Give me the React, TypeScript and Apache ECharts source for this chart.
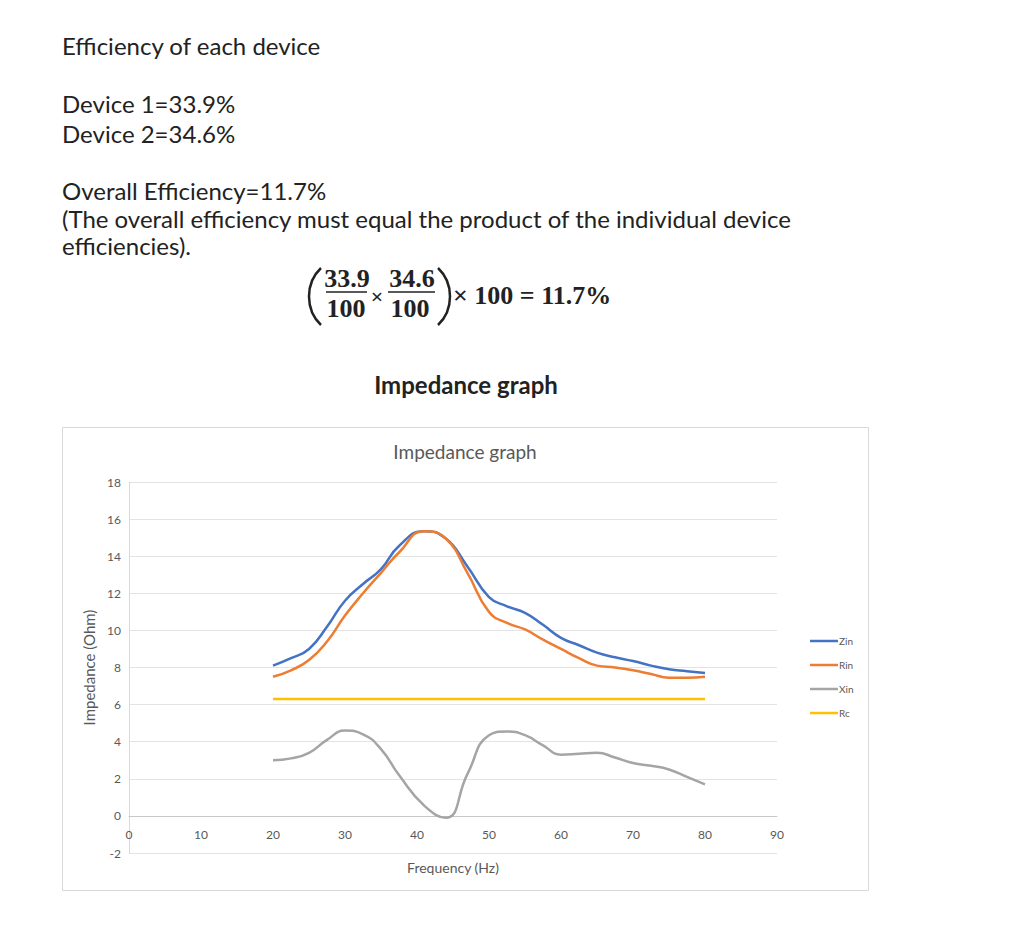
import React, { useEffect, useRef } from "react";
import * as echarts from "echarts";

const frequency = [20, 22.5, 25, 27.5, 30, 32.5, 35, 37.5, 41, 44, 47, 50, 52.5, 55, 57.5, 60, 62.5, 65, 67.5, 70, 72.5, 75, 77.5, 80];
const zin = [8.1, 8.5, 9.0, 10.2, 11.6, 12.5, 13.3, 14.55, 15.35, 14.95, 13.45, 11.8, 11.3, 10.95, 10.3, 9.6, 9.2, 8.8, 8.55, 8.35, 8.1, 7.9, 7.8, 7.7];
const rin = [7.5, 7.85, 8.4, 9.4, 10.8, 12.0, 13.1, 14.2, 15.35, 14.95, 13.1, 11.0, 10.4, 10.05, 9.5, 9.0, 8.5, 8.1, 8.0, 7.85, 7.65, 7.45, 7.45, 7.5];
const xin = [3.0, 3.1, 3.4, 4.1, 4.6, 4.4, 3.6, 2.2, 0.55, -0.1, 2.25, 4.35, 4.55, 4.35, 3.8, 3.3, 3.35, 3.4, 3.15, 2.85, 2.7, 2.5, 2.1, 1.7];
const rc = [6.3, 6.3, 6.3, 6.3, 6.3, 6.3, 6.3, 6.3, 6.3, 6.3, 6.3, 6.3, 6.3, 6.3, 6.3, 6.3, 6.3, 6.3, 6.3, 6.3, 6.3, 6.3, 6.3, 6.3];
const seriesNames = ["Zin", "Rin", "Xin", "Rc"];
const seriesValues = [zin, rin, xin, rc];
const seriesColors = ["#4472C4", "#ED7D31", "#A5A5A5", "#FFC000"];

const docLines = [
  { text: "Efficiency of each device", y: 45 },
  { text: "Device 1=33.9%", y: 103 },
  { text: "Device 2=34.6%", y: 133 },
  { text: "Overall Efficiency=11.7%", y: 190 },
  { text: "(The overall efficiency must equal the product of the individual device", y: 218 },
  { text: "efficiencies).", y: 245 },
];

export default function App() {
  const ref = useRef<HTMLDivElement>(null);
  useEffect(() => {
    if (!ref.current) return;
    const chart = echarts.init(ref.current, null, { renderer: "svg" });
    const docFont = "Lato, 'Open Sans', sans-serif";
    const mathFont = "'Liberation Serif', 'DejaVu Serif', serif";
    const textColor = "#222222";
    const graphics: any[] = [];
    docLines.forEach((l) => {
      graphics.push({
        type: "text",
        x: 62,
        y: l.y,
        style: { text: l.text, font: `24px ${docFont}`, fill: textColor, textVerticalAlign: "middle" },
      });
    });
    // formula
    const fr = (text: string, x: number, y: number, size = 26) => ({
      type: "text",
      x,
      y,
      style: {
        text,
        font: `bold ${size}px ${mathFont}`,
        fill: textColor,
        textAlign: "center",
        textVerticalAlign: "middle",
      },
    });
    graphics.push(fr("33.9", 347, 278));
    graphics.push(fr("100", 346, 308));
    graphics.push(fr("34.6", 412, 278));
    graphics.push(fr("100", 410, 308));
    graphics.push(fr("×", 377, 296, 22));
    graphics.push({ type: "text", x: 453, y: 295, style: { text: "× 100 = 11.7%", font: `bold 26px ${mathFont}`, fill: textColor, textVerticalAlign: "middle" } });
    graphics.push({ type: "line", shape: { x1: 326, y1: 292, x2: 367, y2: 292 }, style: { stroke: textColor, lineWidth: 1.5 } });
    graphics.push({ type: "line", shape: { x1: 388, y1: 292, x2: 435, y2: 292 }, style: { stroke: textColor, lineWidth: 1.5 } });
    graphics.push({ type: "bezierCurve", shape: { x1: 321, y1: 268, cpx1: 305, cpy1: 283, cpx2: 305, cpy2: 310, x2: 321, y2: 325 }, style: { stroke: textColor, lineWidth: 2.5, fill: "none" } });
    graphics.push({ type: "bezierCurve", shape: { x1: 438, y1: 268, cpx1: 454, cpy1: 283, cpx2: 454, cpy2: 310, x2: 438, y2: 325 }, style: { stroke: textColor, lineWidth: 2.5, fill: "none" } });
    // outer heading
    graphics.push({ type: "text", x: 466, y: 384, style: { text: "Impedance graph", font: `bold 24px ${docFont}`, fill: textColor, textAlign: "center", textVerticalAlign: "middle" } });
    // chart box
    graphics.push({ type: "rect", shape: { x: 62.5, y: 427.5, width: 806, height: 463 }, style: { fill: "none", stroke: "#d9d9d9", lineWidth: 1 }, z: -1 });
    // inner title
    graphics.push({ type: "text", x: 465, y: 451, style: { text: "Impedance graph", font: `19px ${docFont}`, fill: "#595959", textAlign: "center", textVerticalAlign: "middle" } });

    chart.setOption({
      animation: false,
      backgroundColor: "#ffffff",
      graphic: graphics,
      grid: { left: 129, right: 247, top: 482, bottom: 91, containLabel: false },
      legend: {
        orient: "vertical",
        left: 805,
        top: 631,
        itemWidth: 28,
        itemHeight: 2.5,
        itemGap: 14,
        icon: "rect",
        textStyle: { fontSize: 10, color: "#595959", fontFamily: docFont, padding: [0, 0, 0, -4] },
        data: seriesNames,
      },
      xAxis: {
        type: "value",
        min: 0,
        max: 90,
        interval: 10,
        offset: -37,
        name: "Frequency (Hz)",
        nameLocation: "middle",
        nameGap: 44,
        nameTextStyle: { fontSize: 14, color: "#595959", fontFamily: docFont },
        axisLine: { onZero: false, lineStyle: { color: "#c8c8c8", width: 1 } },
        axisTick: { show: false },
        axisLabel: { fontSize: 12, color: "#595959", fontFamily: docFont, margin: 12 },
        splitLine: { show: false },
      },
      yAxis: {
        type: "value",
        min: -2,
        max: 18,
        interval: 2,
        name: "Impedance (Ohm)",
        nameLocation: "middle",
        nameGap: 31,
        nameTextStyle: { fontSize: 15, color: "#595959", fontFamily: docFont },
        axisLine: { show: true, onZero: false, lineStyle: { color: "#d9d9d9", width: 1 } },
        axisTick: { show: false },
        axisLabel: { fontSize: 12, color: "#595959", fontFamily: docFont, margin: 8 },
        splitLine: { show: true, lineStyle: { color: "#e3e3e3", width: 1 } },
      },
      series: seriesNames.map((name, i) => ({
        name,
        type: "line",
        smooth: 0.5,
        symbol: "none",
        color: seriesColors[i],
        lineStyle: { width: 2.5, color: seriesColors[i] },
        data: frequency.map((f, j) => [f, seriesValues[i][j]]),
      })),
    });
    return () => chart.dispose();
  }, []);
  return <div ref={ref} style={{ position: "absolute", left: 0, top: 0, width: 1024, height: 944 }} />;
}
